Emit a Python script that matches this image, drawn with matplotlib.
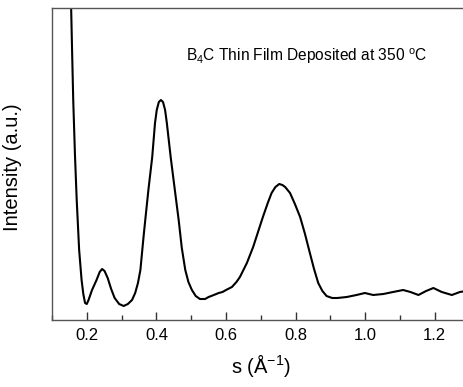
import matplotlib
matplotlib.use("Agg")
import matplotlib.pyplot as plt
from matplotlib.ticker import MultipleLocator

plt.rcParams['font.family'] = ['Liberation Sans', 'DejaVu Sans']
plt.rcParams['mathtext.fontset'] = 'custom'
plt.rcParams['mathtext.rm'] = 'Liberation Sans'
plt.rcParams['mathtext.it'] = 'Liberation Sans:italic'
plt.rcParams['mathtext.bf'] = 'Liberation Sans:bold'

s_values = [0.153, 0.155, 0.158, 0.161, 0.166, 0.171, 0.178, 0.185, 0.190, 0.195, 0.200, 0.205, 0.215,
            0.228, 0.237, 0.244, 0.251, 0.260, 0.270, 0.280, 0.293, 0.306, 0.318, 0.330,
            0.339, 0.347, 0.354, 0.363, 0.368, 0.377, 0.388, 0.396, 0.401, 0.407, 0.413, 0.419, 0.425, 0.430,
            0.441, 0.453, 0.464, 0.473, 0.483, 0.492, 0.502, 0.513, 0.525, 0.540, 0.550, 0.565,
            0.579, 0.590, 0.600, 0.617, 0.630, 0.640, 0.660, 0.678, 0.692, 0.706, 0.720, 0.731,
            0.742, 0.753, 0.762, 0.770, 0.784, 0.798, 0.813, 0.827, 0.841, 0.853, 0.865,
            0.877, 0.889, 0.905, 0.920, 0.947, 0.975, 0.999, 1.023, 1.052, 1.080, 1.109,
            1.130, 1.153, 1.175, 1.196, 1.220, 1.249, 1.272, 1.290]
intensity = [330, 312, 265, 220, 165, 120, 70, 40, 26, 17, 16, 20, 30,
             40, 48, 51, 49, 42, 31, 22, 16, 14, 16, 20,
             27, 37, 50, 83, 100, 130, 163, 197, 210, 218, 220, 218, 210, 197,
             163, 130, 100, 72, 50, 38, 30, 24, 21, 21, 23, 25,
             27, 28, 30, 33, 38, 43, 57, 73, 88, 103, 117, 127,
             133, 136, 135, 133, 127, 116, 103, 86, 67, 51, 37,
             29, 24, 22, 22, 23, 25, 27, 25, 26, 28, 30,
             28, 25, 29, 32, 28, 25, 28, 29]

title_text = r'B$_{\mathregular{4}}$C Thin Film Deposited at 350 $^{\mathregular{o}}$C'
xlabel_text = r's (Å$^{\mathregular{-1}}$)'
ylabel_text = 'Intensity (a.u.)'

fig = plt.figure(figsize=(4.64, 3.87), dpi=100)
W, H = 464, 387
ax = fig.add_axes([52 / W, (H - 320) / H, 417.6 / W, 312 / H])
ax.plot(s_values, intensity, color='black', lw=1.5, solid_joinstyle='round')
ax.set_xlim(0.1, 1.3)
ax.set_ylim(0, 312)

ax.xaxis.set_major_locator(MultipleLocator(0.2))
ax.xaxis.set_minor_locator(MultipleLocator(0.1))
ax.xaxis.set_major_formatter(plt.FuncFormatter(lambda v, p: f"{v:.1f}"))
ax.tick_params(axis='x', which='major', direction='in', length=6, width=1, labelsize=12, pad=6, color='#333333')
ax.tick_params(axis='x', which='minor', direction='in', length=3.5, width=1, color='#333333')
ax.set_yticks([])
for sp in ax.spines.values():
    sp.set_color('#555555')
    sp.set_linewidth(1.0)

ax.set_xlabel(xlabel_text, fontsize=14.5, labelpad=6)
ax.set_ylabel(ylabel_text, fontsize=14.5)
ax.yaxis.set_label_coords(-0.072, 0.49)
ax.text(0.61, 0.846, title_text, transform=ax.transAxes, fontsize=11.2, ha='center', va='center')

fig.savefig('out.png', dpi=100)
